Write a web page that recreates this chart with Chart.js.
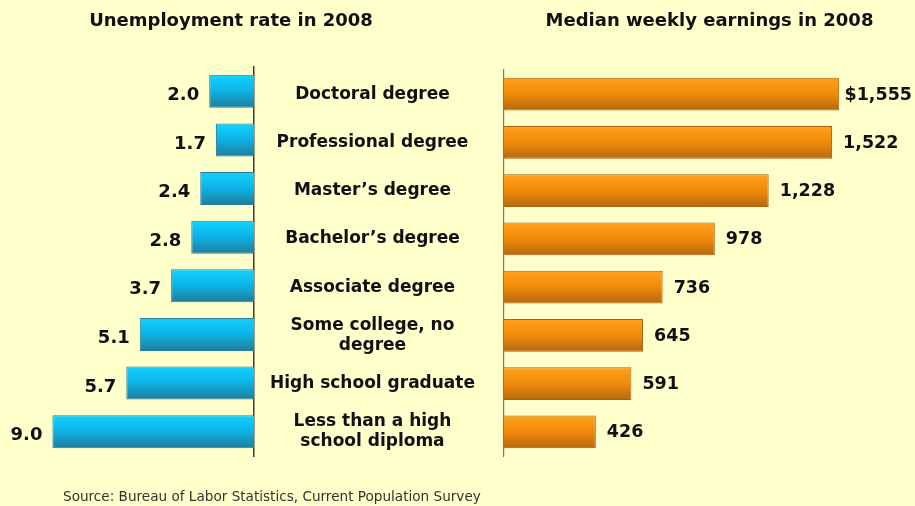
<!DOCTYPE html>
<html><head><meta charset="utf-8">
<script src="https://cdn.jsdelivr.net/npm/chart.js@4.4.1/dist/chart.umd.min.js"></script>
<style>
html,body{margin:0;padding:0;background:#FFFFCC;width:915px;height:506px;overflow:hidden;}
#wrap{position:relative;width:915px;height:506px;}
canvas{position:absolute;top:0;}
#c1{left:0;}
#c2{left:256px;}
</style></head><body>
<div id="wrap">
<canvas id="c1" width="500" height="506"></canvas>
<canvas id="c2" width="659" height="506"></canvas>
</div>
<script>
const categories = [
  "Doctoral degree",
  "Professional degree",
  "Master\u2019s degree",
  "Bachelor\u2019s degree",
  "Associate degree",
  ["Some college, no", "degree"],
  "High school graduate",
  ["Less than a high", "school diploma"]
];
const unemploymentRate = [2.0, 1.7, 2.4, 2.8, 3.7, 5.1, 5.7, 9.0];
const weeklyEarnings = [1555, 1522, 1228, 978, 736, 645, 591, 426];
const leftTitle = "Unemployment rate in 2008";
const rightTitle = "Median weekly earnings in 2008";
const sourceNote = "Source: Bureau of Labor Statistics, Current Population Survey";

Chart.defaults.font.family = "'DejaVu Sans', sans-serif";
Chart.defaults.color = "#111";

const BAR_FRACTION = 0.68;

function gradientFill(stops) {
  return (ctx) => {
    const chart = ctx.chart;
    const area = chart.chartArea;
    if (!area || ctx.dataIndex === undefined) return stops[0][1];
    const y = chart.scales.y.getPixelForValue(ctx.dataIndex);
    const h = (area.bottom - area.top) / categories.length * BAR_FRACTION;
    const g = chart.ctx.createLinearGradient(0, y - h / 2, 0, y + h / 2);
    stops.forEach(s => g.addColorStop(s[0], s[1]));
    return g;
  };
}

function valueLabels(side, fmt) {
  return {
    id: 'valueLabels_' + side,
    afterDatasetsDraw(chart) {
      const c = chart.ctx;
      const meta = chart.getDatasetMeta(0);
      const data = chart.data.datasets[0].data;
      c.save();
      c.fillStyle = "#111";
      c.textBaseline = "middle";
      meta.data.forEach((bar, i) => {
        const txt = fmt(data[i], i);
        if (side === 'left') {
          c.font = "bold 18px 'DejaVu Sans', sans-serif";
          c.textAlign = "right";
          c.fillText(txt, bar.x - 10, bar.y + 4);
        } else {
          c.font = "bold 17.5px 'DejaVu Sans', sans-serif";
          c.textAlign = "left";
          const w = c.measureText(txt).width;
          const x = Math.min(bar.x + 11, chart.width - 3 - w);
          c.fillText(txt, x, bar.y + 1);
        }
      });
      c.restore();
    }
  };
}

function staticText(items) {
  return {
    id: 'staticText',
    afterDraw(chart) {
      const c = chart.ctx;
      c.save();
      items.forEach(t => {
        c.font = t.font;
        c.fillStyle = t.color;
        c.textAlign = t.align;
        c.textBaseline = "middle";
        c.fillText(t.text, t.x, t.y);
      });
      c.restore();
    }
  };
}

new Chart(document.getElementById('c1'), {
  type: 'bar',
  data: {
    labels: categories,
    datasets: [{
      data: unemploymentRate,
      backgroundColor: gradientFill([[0, '#12D2FF'], [0.45, '#0CB6EA'], [1, '#1F7D9C']]),
      borderColor: '#2A7E9A',
      borderWidth: 1,
      barPercentage: BAR_FRACTION,
      categoryPercentage: 1
    }]
  },
  options: {
    indexAxis: 'y',
    responsive: false,
    animation: false,
    devicePixelRatio: 1,
    layout: { padding: { left: 30, right: 246, top: 67, bottom: 50 } },
    plugins: { legend: { display: false }, tooltip: { enabled: false } },
    scales: {
      x: { display: false, reverse: true, min: 0, max: 10 },
      y: {
        position: 'right',
        grid: { display: false },
        ticks: { display: false },
        afterFit(scale) { scale.width = 0; },
        border: { display: true, color: '#3a3a3a', width: 1.5 }
      }
    }
  },
  plugins: [
    valueLabels('left', v => v.toFixed(1)),
    staticText([
      { text: leftTitle, x: 231, y: 21, font: "bold 18px 'DejaVu Sans', sans-serif", color: '#111', align: 'center' },
      { text: sourceNote, x: 63, y: 497, font: "13.6px 'DejaVu Sans', sans-serif", color: '#333', align: 'left' }
    ])
  ]
});

new Chart(document.getElementById('c2'), {
  type: 'bar',
  data: {
    labels: categories,
    datasets: [{
      data: weeklyEarnings,
      backgroundColor: gradientFill([[0, '#FFA21C'], [0.5, '#F08A0B'], [1, '#B4680F']]),
      borderColor: '#A86210',
      borderWidth: 1,
      barPercentage: BAR_FRACTION,
      categoryPercentage: 1
    }]
  },
  options: {
    indexAxis: 'y',
    responsive: false,
    animation: false,
    devicePixelRatio: 1,
    layout: { padding: { left: 0, right: 23, top: 70, bottom: 50 } },
    plugins: { legend: { display: false }, tooltip: { enabled: false } },
    scales: {
      x: { display: false, min: 0, max: 1800 },
      y: {
        position: 'left',
        grid: { display: false },
        border: { display: true, color: '#7a7a7a', width: 1.2 },
        afterFit(scale) { scale.width = 248; },
        ticks: {
          autoSkip: false,
          crossAlign: 'center',
          padding: 21,
          color: '#111',
          font: { size: 17, weight: 'bold', lineHeight: 1.2 }
        }
      }
    }
  },
  plugins: [
    valueLabels('right', (v, i) => (i === 0 ? '$' : '') + v.toLocaleString('en-US')),
    staticText([
      { text: rightTitle, x: 453.5, y: 21, font: "bold 18px 'DejaVu Sans', sans-serif", color: '#111', align: 'center' }
    ])
  ]
});
</script>
</body></html>
